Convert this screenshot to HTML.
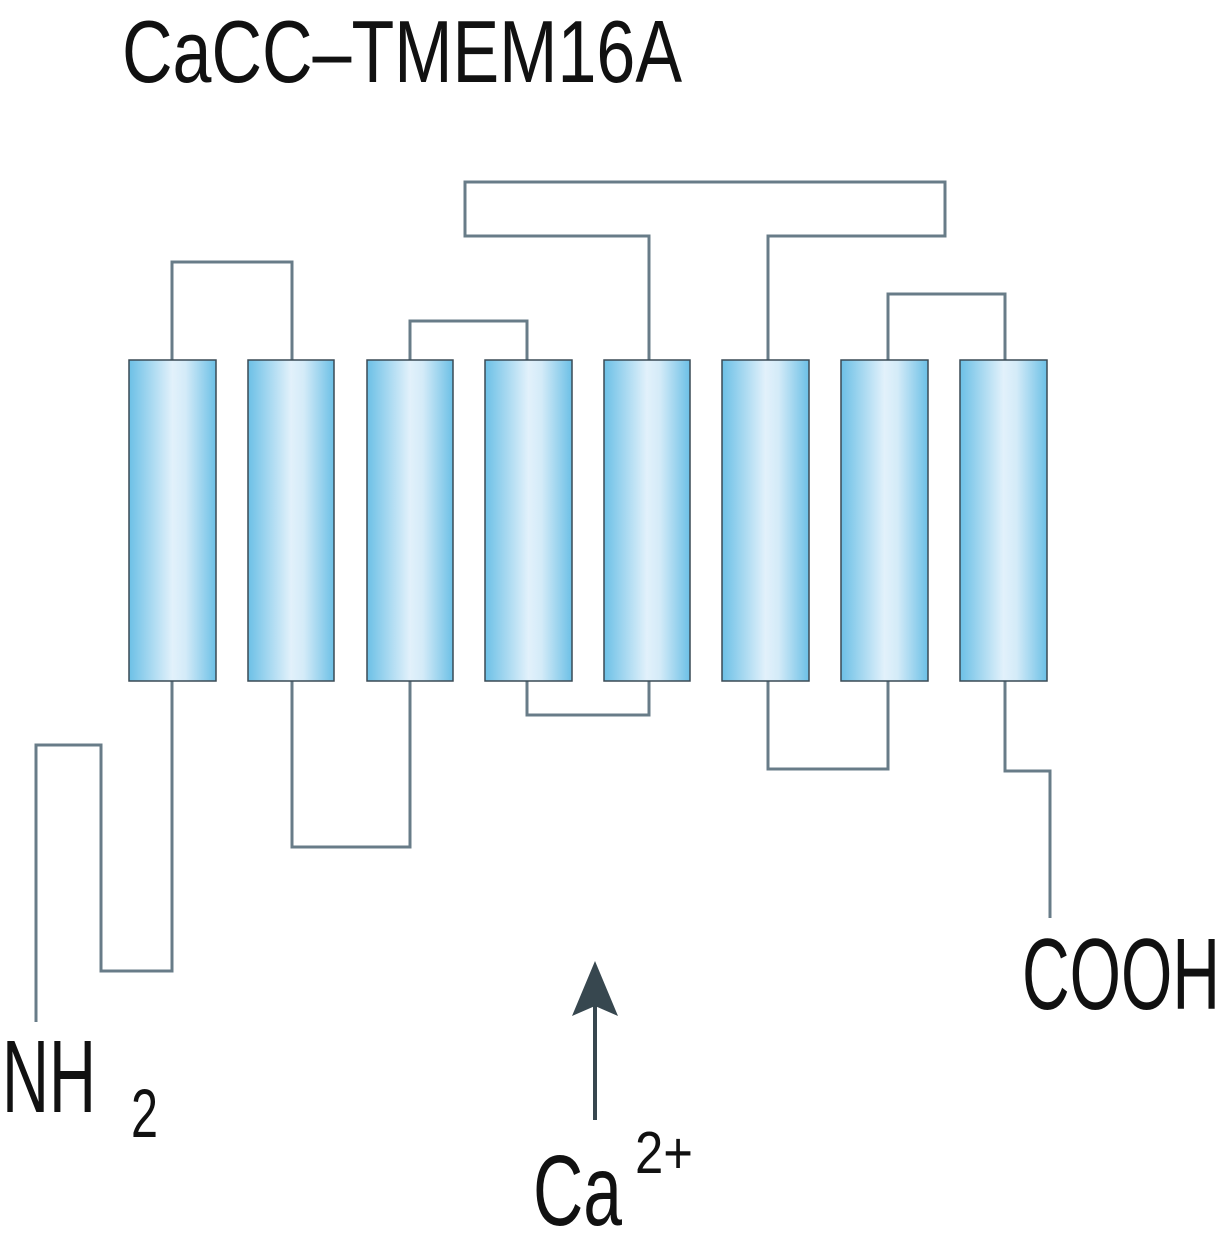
<!DOCTYPE html>
<html><head><style>html,body{margin:0;padding:0;background:#fff;}svg{display:block}</style></head>
<body>
<svg width="1222" height="1241" viewBox="0 0 1222 1241" xmlns="http://www.w3.org/2000/svg">
<defs>
<linearGradient id="g" x1="0" x2="1" y1="0" y2="0">
<stop offset="0" stop-color="#6cc0e6"/>
<stop offset="0.5" stop-color="#e2f1fb"/>
<stop offset="0.65" stop-color="#d4ebf8"/>
<stop offset="1" stop-color="#6cc0e6"/>
</linearGradient>
</defs>
<g font-family="Liberation Sans, sans-serif" fill="#111">
<text x="122" y="82" font-size="88" textLength="560" lengthAdjust="spacingAndGlyphs">CaCC–TMEM16A</text>
<text x="2" y="1112" font-size="103" textLength="94" lengthAdjust="spacingAndGlyphs">NH</text>
<text x="131" y="1137" font-size="69" textLength="27" lengthAdjust="spacingAndGlyphs">2</text>
<text x="1022" y="1009" font-size="101" textLength="198" lengthAdjust="spacingAndGlyphs">COOH</text>
<text x="533" y="1225" font-size="100" textLength="89" lengthAdjust="spacingAndGlyphs">Ca</text>
<text x="635" y="1173" font-size="59" textLength="58" lengthAdjust="spacingAndGlyphs">2+</text>
</g>
<g fill="none" stroke="#687c88" stroke-width="3">
<polyline points="172,360 172,262 292,262 292,360"/>
<polyline points="410,360 410,321 527,321 527,360"/>
<polyline points="649,360 649,236 465,236 465,182 945,182 945,236 768,236 768,360"/>
<polyline points="888,360 888,294 1005,294 1005,360"/>
<polyline points="172,681 172,971 101,971 101,745 36,745 36,1022"/>
<polyline points="292,681 292,847 410,847 410,681"/>
<polyline points="527,681 527,715 649,715 649,681"/>
<polyline points="768,681 768,769 888,769 888,681"/>
<polyline points="1005,681 1005,771 1050,771 1050,918"/>
</g>
<g fill="url(#g)" stroke="#3a4a55" stroke-width="1.5">
<rect x="129" y="360" width="87" height="321"/>
<rect x="248" y="360" width="86" height="321"/>
<rect x="367" y="360" width="86" height="321"/>
<rect x="485" y="360" width="87" height="321"/>
<rect x="604" y="360" width="86" height="321"/>
<rect x="722" y="360" width="87" height="321"/>
<rect x="841" y="360" width="87" height="321"/>
<rect x="960" y="360" width="87" height="321"/>
</g>
<line x1="595" y1="1120" x2="595" y2="1000" stroke="#37474f" stroke-width="4"/>
<polygon points="595,961 618,1016 595,1006 572,1016" fill="#37474f"/>
</svg>
</body></html>
